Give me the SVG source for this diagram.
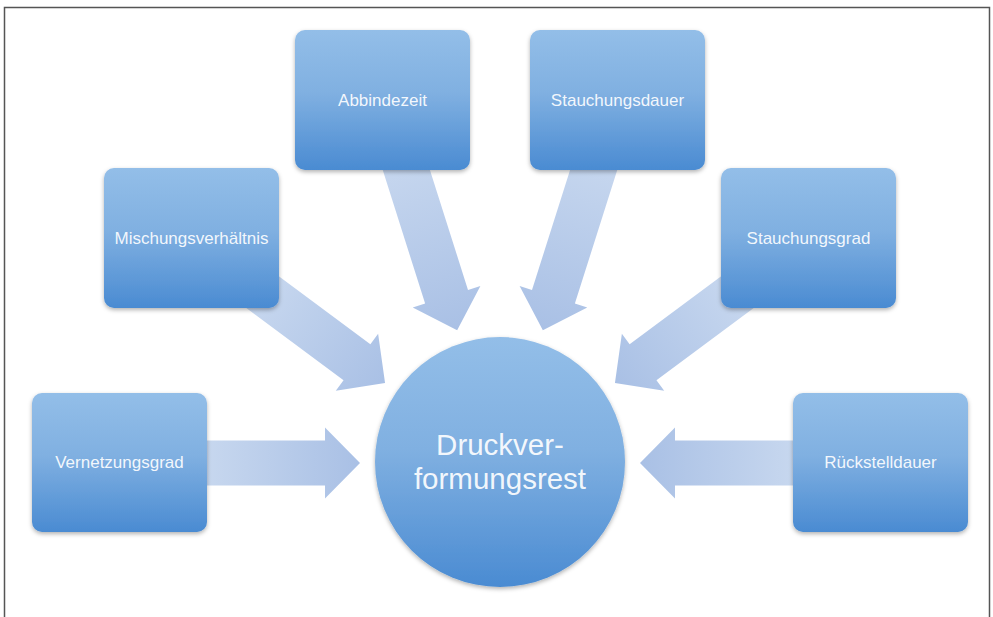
<svg xmlns="http://www.w3.org/2000/svg" width="993" height="617" viewBox="0 0 993 617">
<defs>
<linearGradient id="boxg" x1="0" y1="0" x2="0" y2="1">
<stop offset="0" stop-color="#93bee8"/>
<stop offset="0.45" stop-color="#80b0e1"/>
<stop offset="1" stop-color="#4a8bd2"/>
</linearGradient>
<linearGradient id="arrg" x1="0" y1="0" x2="1" y2="0">
<stop offset="0" stop-color="#c8d8ef"/>
<stop offset="1" stop-color="#a9c0e5"/>
</linearGradient>
<filter id="sh" x="-10%" y="-10%" width="120%" height="125%">
<feDropShadow dx="0" dy="2" stdDeviation="2" flood-color="#000" flood-opacity="0.3"/>
</filter>
</defs>
<style>
.box{fill:url(#boxg);filter:url(#sh)}
.arr{fill:url(#arrg)}
.lbl{font-family:"Liberation Sans",Arial,sans-serif;font-size:17px;fill:#fff;fill-opacity:0.92;text-anchor:middle}
.big{font-family:"Liberation Sans",Arial,sans-serif;font-size:29.5px;fill:#fff;fill-opacity:0.92;text-anchor:middle}
</style>
<rect width="993" height="617" fill="#fff"/>
<path d="M4.5,617 V7.5 H989.5 V617" fill="none" stroke="#555" stroke-width="1.5"/>
<g id="connectors">
<path class="arr" transform="translate(200,463)" d="M0,-22.5 H125 V-35.5 L160,0 L125,35.5 V22.5 H0 Z"/>
<path class="arr" transform="translate(800,463) rotate(180)" d="M0,-22.5 H125 V-35.5 L160,0 L125,35.5 V22.5 H0 Z"/>
<path class="arr" transform="translate(255,286.5) rotate(36.6)" d="M0,-22.5 H127 V-35.5 L162,0 L127,35.5 V22.5 H0 Z"/>
<path class="arr" transform="translate(745,286.5) rotate(143.4)" d="M0,-22.5 H127 V-35.5 L162,0 L127,35.5 V22.5 H0 Z"/>
<path class="arr" transform="translate(400,150) rotate(72.4)" d="M0,-22.5 H154 V-35.5 L189,0 L154,35.5 V22.5 H0 Z"/>
<path class="arr" transform="translate(600,150) rotate(107.6)" d="M0,-22.5 H154 V-35.5 L189,0 L154,35.5 V22.5 H0 Z"/>
</g>
<g id="abbindezeit">
<rect class="box" x="295" y="30" width="175" height="140" rx="10"/>
<text class="lbl" x="382.5" y="106">Abbindezeit</text>
</g>
<g id="stauchungsdauer">
<rect class="box" x="530" y="30" width="175" height="140" rx="10"/>
<text class="lbl" x="617.5" y="106">Stauchungsdauer</text>
</g>
<g id="mischungsverhaeltnis">
<rect class="box" x="104" y="168" width="175" height="140" rx="10"/>
<text class="lbl" x="191.5" y="244">Mischungsverhältnis</text>
</g>
<g id="stauchungsgrad">
<rect class="box" x="721" y="168" width="175" height="140" rx="10"/>
<text class="lbl" x="808.5" y="244">Stauchungsgrad</text>
</g>
<g id="vernetzungsgrad">
<rect class="box" x="32" y="393" width="175" height="139" rx="10"/>
<text class="lbl" x="119.5" y="468">Vernetzungsgrad</text>
</g>
<g id="rueckstelldauer">
<rect class="box" x="793" y="393" width="175" height="139" rx="10"/>
<text class="lbl" x="880.5" y="468">Rückstelldauer</text>
</g>
<g id="druckverformungsrest">
<circle class="box" cx="500" cy="462" r="125"/>
<text class="big" x="500" y="455">Druckver-</text>
<text class="big" x="500" y="489">formungsrest</text>
</g>
</svg>
